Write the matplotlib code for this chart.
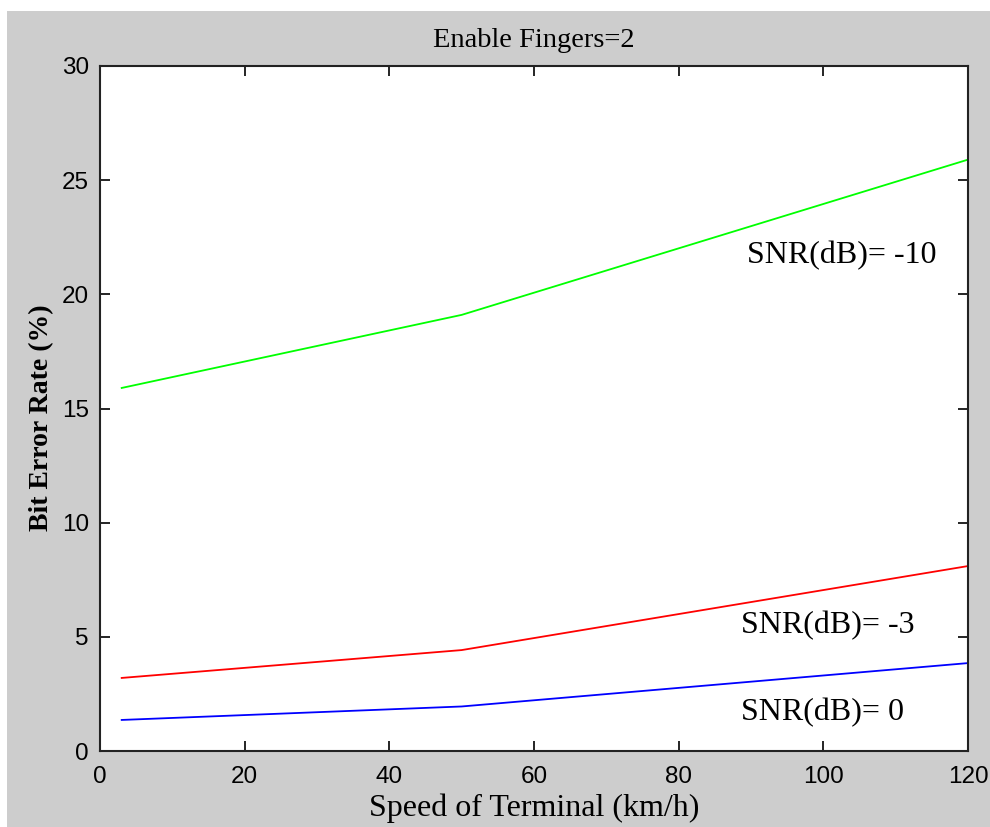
import matplotlib
matplotlib.use("Agg")
import matplotlib.pyplot as plt
from matplotlib.patches import Rectangle

speed = [3, 50, 120]
ber_snr_m10 = [15.9, 19.1, 25.9]
ber_snr_m3 = [3.2, 4.42, 8.1]
ber_snr_0 = [1.36, 1.95, 3.85]

labels = ["SNR(dB)= -10", "SNR(dB)= -3", "SNR(dB)= 0"]
label_pos = [(89.4, 21.7), (88.6, 5.5), (88.6, 1.7)]

xticks = [0, 20, 40, 60, 80, 100, 120]
yticks = [0, 5, 10, 15, 20, 25, 30]

W, H = 990, 827
fig = plt.figure(figsize=(W / 100, H / 100), dpi=100, facecolor="white")
fig.patches.append(Rectangle((7 / W, 0), 1, 1 - 11 / H, transform=fig.transFigure,
                             facecolor="#cdcdcd", edgecolor="none", zorder=-10))

ax = fig.add_axes([100 / W, 1 - 751 / H, 868 / W, 685 / H])
ax.set_facecolor("white")

ax.plot(speed, ber_snr_m10, color="#00ff00", lw=1.3)
ax.plot(speed, ber_snr_m3, color="#ff0000", lw=1.3)
ax.plot(speed, ber_snr_0, color="#0000ff", lw=1.3)

serif = ["Liberation Serif", "DejaVu Serif"]
sans = ["Liberation Sans", "DejaVu Sans"]
for txt, (x, y) in zip(labels, label_pos):
    ax.text(x, y, txt, fontsize=23, family=serif, va="center", ha="left")

ax.set_xlim(0, 120)
ax.set_ylim(0, 30)
ax.set_xticks(xticks)
ax.set_yticks(yticks)
ax.set_xticklabels([str(t) for t in xticks], family=sans, fontsize=17.5)
ax.set_yticklabels([str(t) for t in yticks], family=sans, fontsize=17.5)
ax.tick_params(axis="x", direction="in", length=7, width=1.2, top=True, pad=11)
ax.tick_params(axis="y", direction="in", length=7, width=1.2, right=True, pad=8)
for s in ax.spines.values():
    s.set_linewidth(1.5)
    s.set_color("#222222")

ax.set_title("Enable Fingers=2", family=serif, fontsize=20.5, pad=14)
ax.set_xlabel("Speed of Terminal (km/h)", family=serif, fontsize=23, labelpad=4)
ax.set_ylabel("Bit Error Rate (%)", family=serif, fontsize=20, fontweight="bold")
ax.yaxis.set_label_coords(-0.053, 0.486)

fig.savefig("out.png", dpi=100, facecolor=fig.get_facecolor())
